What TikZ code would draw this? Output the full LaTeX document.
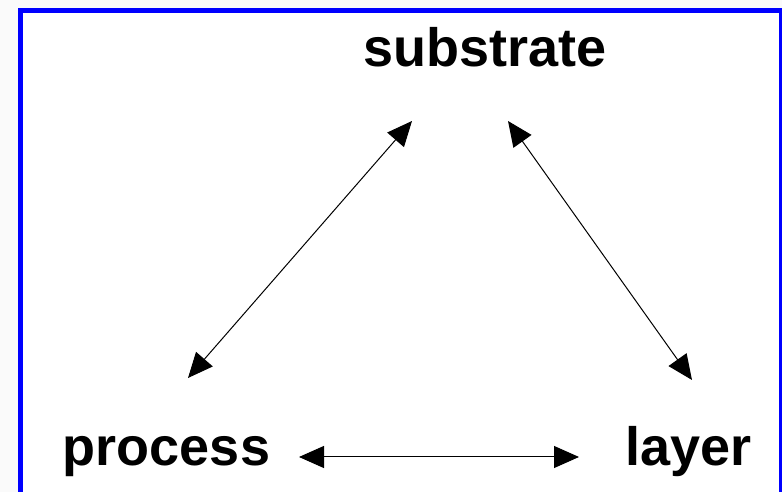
\documentclass[tikz,border=0pt]{standalone}
\usepackage{fontspec}
\setmainfont{Liberation Sans}
\usetikzlibrary{arrows.meta}
\definecolor{pagegray}{RGB}{250,250,250}
\definecolor{framebl}{RGB}{0,0,255}
\begin{document}
\begin{tikzpicture}[x=1pt,y=1pt,
  label/.style={font=\fontsize{54}{60}\selectfont\bfseries, anchor=base, inner sep=0pt},
  link/.style={line width=1pt, {Triangle[length=25pt,width=22pt]}-{Triangle[length=25pt,width=22pt]}}]
  \useasboundingbox (0,0) rectangle (782,492);
  \clip (0,0) rectangle (782,492);
  % page and blue frame
  \fill[pagegray] (0,0) rectangle (782,492);
  \filldraw[fill=white, draw=framebl, line width=5pt] (20.5,481.5) rectangle (781.5,-20);
  % labels
  \node[label] (substrate) at (485,425) {substrate};
  \node[label] (process) at (166.5,26) {process};
  \node[label] (layer) at (688.5,26) {layer};
  % arrow ends
  \coordinate (pl) at (299,35);
  \coordinate (lp) at (579,35);
  \coordinate (ps) at (188,114);
  \coordinate (sp) at (412,371);
  \coordinate (sl) at (508,371);
  \coordinate (ls) at (692,112);
  % connectors
  \draw[link] (pl) -- (lp);
  \draw[link] (ps) -- (sp);
  \draw[link] (sl) -- (ls);
\end{tikzpicture}
\end{document}
